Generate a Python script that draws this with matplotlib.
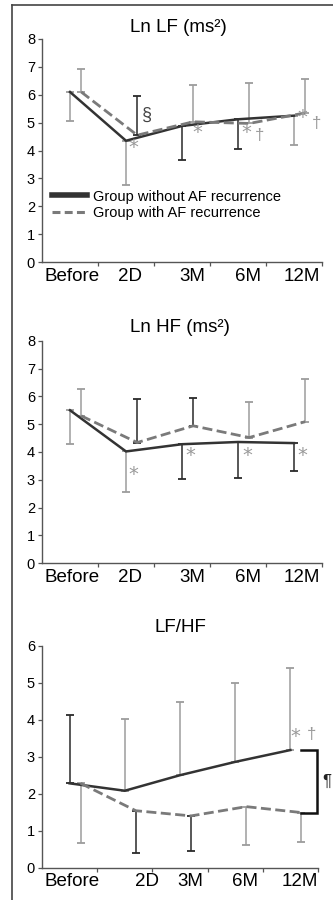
import matplotlib
matplotlib.use("Agg")
import matplotlib.pyplot as plt
from matplotlib.lines import Line2D
import numpy as np

plt.rcParams["font.family"] = ["Liberation Sans", "DejaVu Sans"]

labels = ["Before", "2D", "3M", "6M", "12M"]

# Ln LF (ms²)
lf_without = [6.10, 4.35, 4.88, 5.12, 5.25]
lf_with = [6.10, 4.55, 5.03, 4.97, 5.35]
lf_without_end = [5.05, 2.75, 3.65, 4.05, 4.20]
lf_with_end = [6.92, 5.97, 6.35, 6.42, 6.58]

# Ln HF (ms²)
hf_without = [5.50, 4.02, 4.28, 4.36, 4.32]
hf_with = [5.30, 4.34, 4.94, 4.52, 5.09]
hf_without_end = [4.29, 2.58, 3.03, 3.06, 3.30]
hf_with_end = [6.26, 5.90, 5.93, 5.81, 6.63]

# LF/HF
ratio_without = [2.28, 2.08, 2.50, 2.86, 3.18]
ratio_with = [2.28, 1.54, 1.40, 1.65, 1.49]
ratio_without_end = [4.13, 4.01, 4.47, 4.98, 5.39]
ratio_with_end = [0.66, 0.39, 0.45, 0.61, 0.70]

DARK = "#2a2a2a"
GRAY = "#9c9c9c"
SOLID_C = "#333333"
DASH_C = "#7a7a7a"
STAR_C = "#9a9a9a"

fig = plt.figure(figsize=(3.33, 9.0), dpi=100)

W, H = 333.0, 900.0


def make_axes(left, right, top, bottom):
    return fig.add_axes([left / W, 1 - bottom / H, (right - left) / W, (bottom - top) / H])


def draw_errors(ax, x, y, ends, colors):
    for xi, yi, ei, c in zip(x, y, ends, colors):
        if ei < yi:
            err = [[yi - ei], [0]]
        else:
            err = [[0], [ei - yi]]
        ax.errorbar([xi], [yi], yerr=err, fmt="none", ecolor=c,
                    elinewidth=1.1, capsize=3.2, capthick=1.3, zorder=2)


def style_axes(ax, ymax, label_shift):
    n = len(labels)
    ax.set_xlim(-0.5, n - 0.5)
    ax.set_ylim(0, ymax)
    for s in ["top", "right"]:
        ax.spines[s].set_visible(False)
    for s in ["left", "bottom"]:
        ax.spines[s].set_color("#555555")
        ax.spines[s].set_linewidth(1.0)
    ax.set_yticks(np.arange(0, ymax + 1, 1))
    ax.tick_params(axis="y", direction="out", length=3, width=0.9,
                   color="#555555", labelsize=10.5, pad=2)
    ax.set_xticks(np.arange(n) + np.array(label_shift))
    ax.set_xticklabels(labels, fontsize=13.5)
    ax.tick_params(axis="x", length=0, pad=4)
    ax.set_xticks(np.arange(n) + 0.5, minor=True)
    ax.tick_params(axis="x", which="minor", direction="out", length=3,
                   width=0.9, color="#555555")


def draw_series(ax, a, b, a_end, b_end, a_cols, b_cols):
    x = np.arange(len(labels))
    xb = x + 0.2
    draw_errors(ax, x, a, a_end, a_cols)
    draw_errors(ax, xb, b, b_end, b_cols)
    ax.plot(x, a, color=SOLID_C, lw=1.8, solid_joinstyle="miter", zorder=3)
    ax.plot(xb, b, color=DASH_C, lw=2.0, dashes=(3.6, 1.6), zorder=3)


def mark(ax, xs, ys, t):
    ax.text(xs, ys, t, fontsize=14 if t == "*" else 12, color=STAR_C,
            ha="center", va="center", family=["DejaVu Sans"] if t == "*" else None)


# Panel 1: Ln LF
ax1 = make_axes(42, 322, 39, 262)
draw_series(ax1, lf_without, lf_with, lf_without_end, lf_with_end,
            [GRAY, GRAY, DARK, DARK, GRAY], [GRAY, DARK, GRAY, GRAY, GRAY])
style_axes(ax1, 8, [0.04, 0.07, 0.18, 0.18, 0.14])
ax1.text(1.375, 5.27, "§", fontsize=13, color="#444444", ha="center", va="center")
for xs, ys, t in [(1.125, 4.12, "*"), (2.27, 4.66, "*"), (3.14, 4.66, "*"),
                  (3.375, 4.55, "†"), (4.14, 5.2, "*"), (4.41, 4.98, "†")]:
    mark(ax1, xs, ys, t)
handles = [Line2D([], [], color=SOLID_C, lw=4.0),
           Line2D([], [], color=DASH_C, lw=2.2, dashes=(2.6, 1.4))]
ax1.legend(handles, ["Group without AF recurrence", "Group with AF recurrence"],
           loc="upper left", bbox_to_anchor=(0.035, 0.325), frameon=False,
           fontsize=10.5, handlelength=2.4, handletextpad=0.45,
           labelspacing=0.15, borderpad=0, borderaxespad=0)
fig.text(178 / W, 1 - 28 / H, "Ln LF (ms²)", fontsize=13.5, ha="center", va="center")

# Panel 2: Ln HF
ax2 = make_axes(42, 322, 340.7, 563.3)
draw_series(ax2, hf_without, hf_with, hf_without_end, hf_with_end,
            [GRAY, GRAY, DARK, DARK, DARK], [GRAY, DARK, DARK, GRAY, GRAY])
style_axes(ax2, 8, [0.04, 0.07, 0.18, 0.18, 0.14])
for xs, ys in [(1.125, 3.2), (2.14, 3.86), (3.16, 3.86), (4.14, 3.86)]:
    mark(ax2, xs, ys, "*")
fig.text(180 / W, 1 - 328 / H, "Ln HF (ms²)", fontsize=13.5, ha="center", va="center")

# Panel 3: LF/HF
ax3 = make_axes(42, 318, 645.7, 867.7)
draw_series(ax3, ratio_without, ratio_with, ratio_without_end, ratio_with_end,
            [DARK, GRAY, GRAY, GRAY, GRAY], [GRAY, DARK, DARK, GRAY, GRAY])
style_axes(ax3, 6, [0.04, 0.40, 0.18, 0.18, 0.17])
mark(ax3, 4.08, 3.54, "*")
mark(ax3, 4.39, 3.59, "†")
bx = [4.2, 4.48, 4.48, 4.2]
by = [ratio_without[-1], ratio_without[-1], ratio_with[-1], ratio_with[-1]]
ax3.plot(bx, by, color="#111111", lw=1.8, clip_on=False, zorder=4,
         solid_joinstyle="miter")
ax3.text(4.66, (ratio_without[-1] + ratio_with[-1]) / 2, "¶", fontsize=12,
         color="#222222", ha="center", va="center", clip_on=False)
fig.text(180 / W, 1 - 628 / H, "LF/HF", fontsize=13.5, ha="center", va="center")

# Outer frame lines along the top and left edges
fig.add_artist(Line2D([11.5 / W, 1.0], [1 - 5 / H, 1 - 5 / H], color="#444444", lw=1.2))
fig.add_artist(Line2D([11.5 / W, 11.5 / W], [0.0, 1 - 5 / H], color="#444444", lw=1.2))

fig.savefig("out.png", dpi=100)
